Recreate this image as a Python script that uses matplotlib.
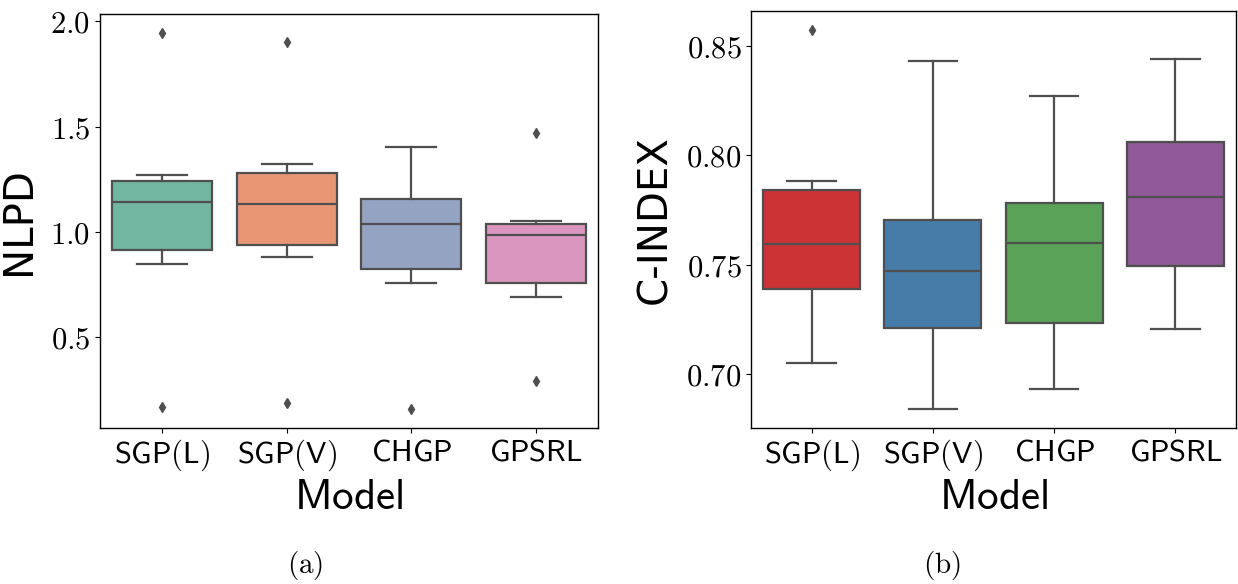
import colorsys
import matplotlib
matplotlib.use('Agg')
import matplotlib.pyplot as plt
import matplotlib.colors as mcolors

plt.rcParams['mathtext.fontset'] = 'cm'

models = ['SGP(L)', 'SGP(V)', 'CHGP', 'GPSRL']

# NLPD summary per model
nlpd_whislo = [0.848, 0.880, 0.759, 0.690]
nlpd_q1 = [0.916, 0.938, 0.823, 0.759]
nlpd_med = [1.144, 1.133, 1.038, 0.987]
nlpd_q3 = [1.244, 1.278, 1.155, 1.038]
nlpd_whishi = [1.272, 1.324, 1.402, 1.051]
nlpd_fliers = [[1.945, 0.169], [1.900, 0.190], [0.160], [1.470, 0.293]]

# C-index summary per model
cidx_whislo = [0.7049, 0.6840, 0.6933, 0.7207]
cidx_q1 = [0.7391, 0.7212, 0.7235, 0.7496]
cidx_med = [0.7594, 0.7472, 0.7600, 0.7809]
cidx_q3 = [0.7841, 0.7704, 0.7783, 0.8063]
cidx_whishi = [0.7883, 0.8433, 0.8272, 0.8441]
cidx_fliers = [[0.8573], [], [], []]

set2 = ['#66c2a5', '#fc8d62', '#8da0cb', '#e78ac3']
set1 = ['#e41a1c', '#377eb8', '#4daf4a', '#984ea3']
line_gray = '#4f4f4f'


def desaturate(c, prop=0.75):
    r, g, b = mcolors.to_rgb(c)
    h, l, s = colorsys.rgb_to_hls(r, g, b)
    return colorsys.hls_to_rgb(h, l, s * prop)


def draw_boxes(ax, lo, q1, med, q3, hi, fliers, palette):
    stats = []
    for i in range(len(models)):
        stats.append(dict(whislo=lo[i], q1=q1[i], med=med[i], q3=q3[i],
                          whishi=hi[i], fliers=fliers[i], label=models[i]))
    bp = ax.bxp(stats, positions=range(len(models)), widths=0.8,
                patch_artist=True, showfliers=True,
                boxprops=dict(edgecolor=line_gray, linewidth=1.6),
                medianprops=dict(color=line_gray, linewidth=1.6),
                whiskerprops=dict(color=line_gray, linewidth=1.6),
                capprops=dict(color=line_gray, linewidth=1.6),
                flierprops=dict(marker='d', markerfacecolor=line_gray,
                                markeredgecolor=line_gray, markersize=5))
    for patch, c in zip(bp['boxes'], palette):
        patch.set_facecolor(desaturate(c))
    # caps span half the box width
    for cap in bp['caps']:
        x = cap.get_xdata()
        mid = (x[0] + x[1]) / 2
        cap.set_xdata([mid - 0.2, mid + 0.2])
    ax.set_xlim(-0.5, len(models) - 0.5)
    ax.set_xticks(range(len(models)))
    ax.set_xticklabels([r'$\mathsf{' + m + '}$' for m in models], fontsize=22)
    ax.tick_params(axis='y', labelsize=22)
    for s in ax.spines.values():
        s.set_linewidth(1.0)


fig = plt.figure(figsize=(12.38, 5.84), dpi=100)
W, H = 1238, 584

ax1 = fig.add_axes([100 / W, (H - 428) / H, 498 / W, 414 / H])
draw_boxes(ax1, nlpd_whislo, nlpd_q1, nlpd_med, nlpd_q3, nlpd_whishi,
           nlpd_fliers, set2)
all1 = nlpd_whislo + nlpd_whishi + [v for f in nlpd_fliers for v in f]
pad1 = (max(all1) - min(all1)) * 0.05
ax1.set_ylim(min(all1) - pad1, max(all1) + pad1)
ax1.set_yticks([0.5, 1.0, 1.5, 2.0])
ax1.set_yticklabels([r'$%.1f$' % v for v in [0.5, 1.0, 1.5, 2.0]])
ax1.set_ylabel('NLPD', fontsize=29, family='DejaVu Sans', labelpad=8)
ax1.set_xlabel(r'$\mathsf{Model}$', fontsize=31, labelpad=2)

ax2 = fig.add_axes([751 / W, (H - 428) / H, 485 / W, 417 / H])
draw_boxes(ax2, cidx_whislo, cidx_q1, cidx_med, cidx_q3, cidx_whishi,
           cidx_fliers, set1)
all2 = cidx_whislo + cidx_whishi + [v for f in cidx_fliers for v in f]
pad2 = (max(all2) - min(all2)) * 0.05
ax2.set_ylim(min(all2) - pad2, max(all2) + pad2)
ax2.set_yticks([0.70, 0.75, 0.80, 0.85])
ax2.set_yticklabels([r'$%.2f$' % v for v in [0.70, 0.75, 0.80, 0.85]])
ax2.set_ylabel('C-INDEX', fontsize=29, family='DejaVu Sans', labelpad=8)
ax2.set_xlabel(r'$\mathsf{Model}$', fontsize=31, labelpad=2)

fig.text(305 / W, 1 - 566 / H, r'$\mathrm{(a)}$', fontsize=21,
         ha='center', va='center')
fig.text(942 / W, 1 - 566 / H, r'$\mathrm{(b)}$', fontsize=21,
         ha='center', va='center')

fig.savefig('out.png', dpi=100)
